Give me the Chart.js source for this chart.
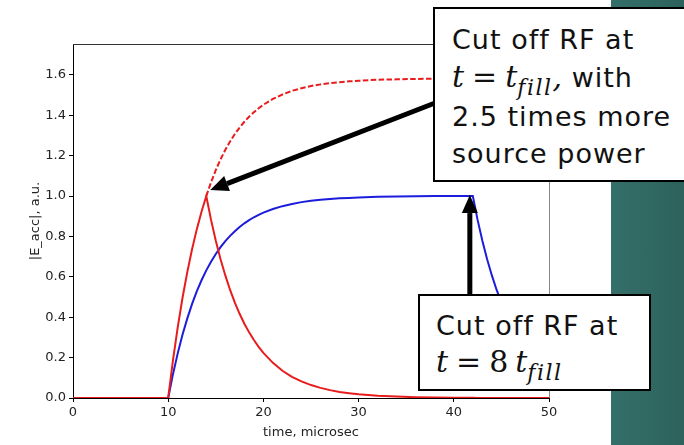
<!DOCTYPE html>
<html>
<head>
<meta charset="utf-8">
<script src="https://cdn.jsdelivr.net/npm/chart.js@4/dist/chart.umd.min.js"></script>
<style>
  html, body { margin: 0; padding: 0; background: #fff; }
  #stage { position: relative; width: 684px; height: 445px; overflow: hidden; }
  #panel { position: absolute; left: 611px; top: 0; width: 73px; height: 445px;
           background: linear-gradient(to right, #346f69, #2d625c); }
  #plot { position: absolute; left: 0; top: 0; }
  .note { position: absolute; background: #fff; border: 2px solid #000; box-sizing: border-box;
          font-family: 'DejaVu Sans', sans-serif; color: #111; }
  .ln { position: absolute; white-space: nowrap; font-size: 27px; line-height: 27px; letter-spacing: 1px; }
  .m { font-family: 'DejaVu Serif', serif; font-style: italic; font-size: 30px; letter-spacing: 0; }
  .op { font-family: 'DejaVu Serif', serif; font-style: normal; font-size: 30px; letter-spacing: 0; margin: 0 8px; }
  .sb { font-family: 'DejaVu Serif', serif; font-style: italic; font-size: 22px; letter-spacing: 1.5px;
        position: relative; top: 8px; }
</style>
</head>
<body>
<div id="stage">
  <div id="panel"></div>
  <canvas id="plot" width="684" height="445"></canvas>
  <div class="note" id="noteBoost">
    <div class="ln" style="left:17px;top:17px">Cut off RF at</div>
    <div class="ln" style="left:17px;top:54px"><span class="m">t</span><span class="op">=</span><span class="m">t</span><span class="sb">fill</span><span class="m">,</span> with</div>
    <div class="ln" style="left:17px;top:94px">2.5 times more</div>
    <div class="ln" style="left:17px;top:131px">source power</div>
  </div>
  <div class="note" id="noteLong">
    <div class="ln" style="left:16px;top:16px">Cut off RF at</div>
    <div class="ln" style="left:16px;top:52px"><span class="m">t</span><span class="op">=</span><span class="op" style="margin:0 7px 0 0">8</span><span class="m">t</span><span class="sb">fill</span></div>
  </div>
</div>
<script>
// Sample times (microseconds) and field amplitudes |E_acc| in arbitrary units.
const timeUs = [0, 10, 10.5, 11, 11.5, 12, 12.5, 13, 13.5, 14, 14.5, 15, 15.5, 16, 16.5, 17, 17.5, 18, 18.5, 19, 19.5, 20,
  21, 22, 23, 24, 25, 26, 27, 28, 29, 30, 32, 34, 36, 38, 40, 42, 42.5, 43, 43.5, 44, 44.5, 45, 45.5, 46, 47, 48, 49, 50];

// Nominal drive, RF switched off at t = 8 t_fill
const fieldLongPulse = [0, 0, 0.118, 0.221, 0.313, 0.393, 0.465, 0.528, 0.583, 0.632, 0.675, 0.713, 0.747, 0.777, 0.803, 0.826, 0.847, 0.865, 0.881, 0.895, 0.907, 0.918,
  0.936, 0.950, 0.961, 0.970, 0.977, 0.982, 0.986, 0.989, 0.991, 0.993, 0.996, 0.998, 0.999, 1.000, 1.000, 1.000, 0.882, 0.779, 0.687, 0.607, 0.535, 0.472, 0.417, 0.368, 0.287, 0.223, 0.174, 0.135];

// 2.5x source power, RF switched off at t = t_fill
const fieldShortPulse = [0, 0, 0.186, 0.350, 0.495, 0.622, 0.735, 0.835, 0.922, 1.000, 0.882, 0.779, 0.687, 0.607, 0.535, 0.472, 0.417, 0.368, 0.325, 0.287, 0.253, 0.223,
  0.174, 0.135, 0.105, 0.082, 0.064, 0.050, 0.039, 0.030, 0.024, 0.018, 0.011, 0.007, 0.004, 0.002, 0.001, 0.001, 0, 0, 0, 0, 0, 0, 0, 0, 0, 0, 0, 0];

// 2.5x source power if the RF were left on
const fieldShortPulseContinued = [null, null, null, null, null, null, null, null, null, 1.000, 1.068, 1.129, 1.182, 1.229, 1.270, 1.307, 1.339, 1.368, 1.393, 1.415, 1.435, 1.452,
  1.481, 1.503, 1.521, 1.534, 1.545, 1.553, 1.559, 1.564, 1.568, 1.571, 1.576, 1.578, 1.580, 1.581, 1.581, 1.581, 1.582, 1.582, 1.582, 1.582, 1.582, 1.582, 1.582, 1.582, 1.582, 1.582, 1.582, 1.582];

const xTicks = [0, 10, 20, 30, 40, 50];
const yTicks = [0, 0.2, 0.4, 0.6, 0.8, 1.0, 1.2, 1.4, 1.6];

// RF cut-off instants (microseconds) that the arrows point to, with the field there
const cutoffShort = { t: 14, field: 1.0 };
const cutoffLong = { t: 42, field: 1.0 };

// Callout boxes (page pixels)
const noteBoostBox = { left: 433, top: 7, width: 275, height: 175 };
const noteLongBox = { left: 418, top: 294, width: 233, height: 97 };

function placeBox(id, b) {
  const el = document.getElementById(id);
  el.style.left = b.left + 'px'; el.style.top = b.top + 'px';
  el.style.width = b.width + 'px'; el.style.height = b.height + 'px';
}
placeBox('noteBoost', noteBoostBox);
placeBox('noteLong', noteLongBox);

const toPoints = arr => timeUs.map((t, i) => ({ x: t, y: arr[i] }));

function drawArrow(ctx, x0, y0, x1, y1) {
  const ang = Math.atan2(y1 - y0, x1 - x0);
  const headLen = 18, headHalf = 8;
  const bx = x1 - headLen * Math.cos(ang), by = y1 - headLen * Math.sin(ang);
  ctx.save();
  ctx.strokeStyle = '#000';
  ctx.fillStyle = '#000';
  ctx.lineWidth = 5;
  ctx.beginPath();
  ctx.moveTo(x0, y0);
  ctx.lineTo(bx, by);
  ctx.stroke();
  ctx.beginPath();
  ctx.moveTo(x1, y1);
  ctx.lineTo(bx + headHalf * Math.sin(ang), by - headHalf * Math.cos(ang));
  ctx.lineTo(bx - headHalf * Math.sin(ang), by + headHalf * Math.cos(ang));
  ctx.closePath();
  ctx.fill();
  ctx.restore();
}

const framePlugin = {
  id: 'frame',
  afterDraw(chart) {
    const { ctx, chartArea: a, scales } = chart;
    ctx.save();
    ctx.lineWidth = 1;
    ctx.strokeStyle = '#333';
    ctx.beginPath();
    ctx.moveTo(a.left, a.top + 0.5);
    ctx.lineTo(a.right, a.top + 0.5);
    ctx.stroke();
    ctx.strokeStyle = '#888';
    ctx.beginPath();
    ctx.moveTo(a.right + 0.5, a.top);
    ctx.lineTo(a.right + 0.5, a.bottom);
    ctx.stroke();
    ctx.restore();

    const x = scales.x, y = scales.y;
    // arrow to the short-pulse cut-off peak
    drawArrow(ctx, noteBoostBox.left + 2, noteBoostBox.top + 96,
      x.getPixelForValue(cutoffShort.t) + 4, y.getPixelForValue(cutoffShort.field) - 6);
    // arrow to the long-pulse cut-off
    const xl = x.getPixelForValue(cutoffLong.t) - 3;
    drawArrow(ctx, xl, noteLongBox.top + 4, xl, y.getPixelForValue(cutoffLong.field) - 1);
  }
};

Chart.defaults.font.family = "'DejaVu Sans', sans-serif";
Chart.defaults.font.size = 13;
Chart.defaults.color = '#222';

new Chart(document.getElementById('plot'), {
  type: 'line',
  data: {
    datasets: [
      { data: toPoints(fieldShortPulse), borderColor: '#e81c1c', borderWidth: 2, order: 0 },
      { data: toPoints(fieldShortPulseContinued), borderColor: '#e81c1c', borderWidth: 2, borderDash: [5.5, 2.4], order: 1 },
      { data: toPoints(fieldLongPulse), borderColor: '#1c1cdc', borderWidth: 2, order: 2 }
    ]
  },
  options: {
    responsive: false,
    animation: false,
    devicePixelRatio: 1,
    layout: { padding: { left: 0, top: 44, right: 135, bottom: 0 } },
    elements: { point: { radius: 0, hoverRadius: 0 }, line: { tension: 0, fill: false } },
    plugins: { legend: { display: false }, tooltip: { enabled: false } },
    events: [],
    scales: {
      x: {
        type: 'linear', min: 0, max: 50,
        afterBuildTicks: s => { s.ticks = xTicks.map(v => ({ value: v })); },
        afterFit: s => { s.height = 47; },
        ticks: { padding: 3, maxRotation: 0, callback: v => String(v) },
        grid: { drawOnChartArea: false, drawTicks: true, tickLength: 4, tickColor: '#000' },
        border: { display: true, color: '#000', width: 1 },
        title: { display: true, text: 'time, microsec', padding: { top: 0, bottom: 5 } }
      },
      y: {
        type: 'linear', min: 0, max: 1.753,
        afterBuildTicks: s => { s.ticks = yTicks.map(v => ({ value: v })); },
        afterFit: s => { s.width = 73; },
        ticks: { padding: 3, callback: v => v.toFixed(1) },
        grid: { drawOnChartArea: false, drawTicks: true, tickLength: 4, tickColor: '#000' },
        border: { display: true, color: '#000', width: 1 },
        title: { display: true, text: '|E_acc|, a.u.', padding: { top: 28, bottom: 0 } }
      }
    }
  },
  plugins: [framePlugin]
});
</script>
</body>
</html>
